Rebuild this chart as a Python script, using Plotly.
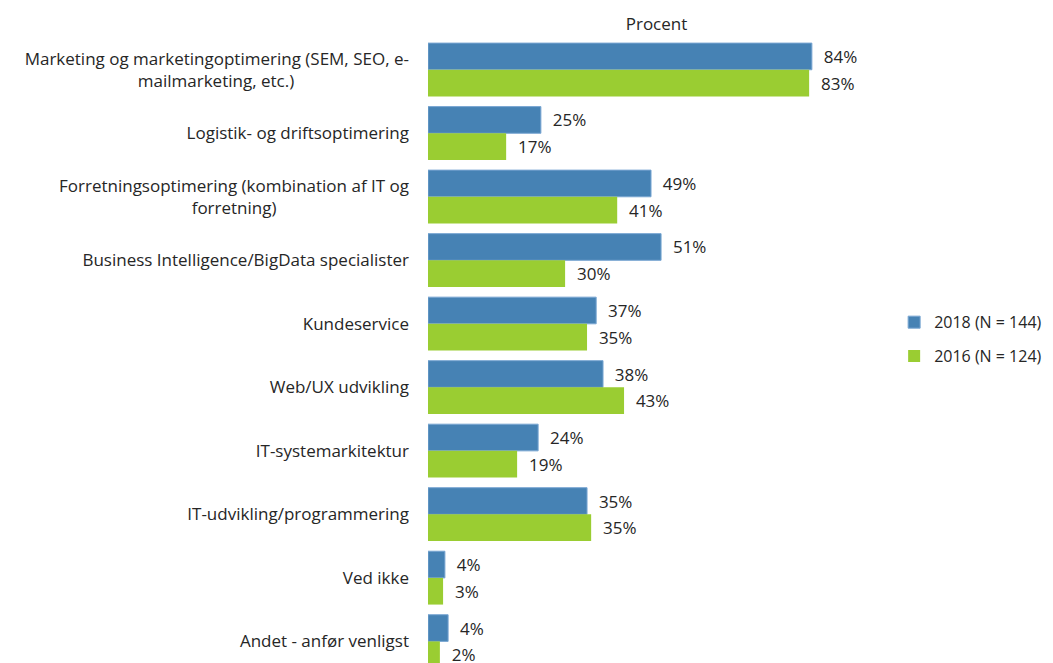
import plotly.graph_objects as go

NB = "\u00a0"
categories = [
    "Marketing og marketingoptimering (SEM, SEO, e-<br>mailmarketing, etc.)" + NB * 26,
    "Logistik- og driftsoptimering",
    "Forretningsoptimering (kombination af IT og<br>forretning)" + NB * 30,
    "Business Intelligence/BigData specialister",
    "Kundeservice",
    "Web/UX udvikling",
    "IT-systemarkitektur",
    "IT-udvikling/programmering",
    "Ved ikke",
    "Andet - anfør venligst",
]
values_2018 = [84.0, 24.7, 48.8, 51.0, 36.8, 38.3, 24.1, 34.8, 3.7, 4.4]
values_2016 = [83.4, 17.1, 41.4, 30.0, 34.8, 42.9, 19.5, 35.7, 3.3, 2.6]
labels_2018 = ["84%", "25%", "49%", "51%", "37%", "38%", "24%", "35%", "4%", "4%"]
labels_2016 = ["83%", "17%", "41%", "30%", "35%", "43%", "19%", "35%", "3%", "2%"]

FONT = "Open Sans"
TXT = "#262626"
FS = 17
pad = NB * 2

fig = go.Figure()
fig.add_trace(go.Bar(
    y=categories, x=values_2018, orientation="h", name="2018 (N = 144)",
    marker=dict(color="#4682B4", line=dict(color="#79A6D2", width=1)),
    text=[pad + t for t in labels_2018], textposition="outside",
    textfont=dict(family=FONT, size=FS, color=TXT), cliponaxis=False,
    legendgroup="a",
))
fig.add_trace(go.Bar(
    y=categories, x=values_2016, orientation="h", name="2016 (N = 124)",
    marker=dict(color="#9ACD32", line=dict(width=0)),
    text=[pad + t for t in labels_2016], textposition="outside",
    textfont=dict(family=FONT, size=FS, color=TXT), cliponaxis=False,
    legendgroup="b",
))

fig.update_layout(
    width=1053, height=663,
    margin=dict(l=428, r=168, t=38, b=0, autoexpand=False),
    paper_bgcolor="white", plot_bgcolor="white",
    font=dict(family=FONT, size=FS, color=TXT),
    barmode="group", bargap=0.16, bargroupgap=0,
    showlegend=True,
    legend=dict(x=1.02, xanchor="left", y=0.518, yanchor="middle",
                traceorder="grouped", tracegroupgap=10, itemwidth=30,
                font=dict(family=FONT, size=16, color=TXT)),
    xaxis=dict(range=[0, 100], side="top", showticklabels=False, showgrid=False,
               zeroline=False, showline=False, ticks="",
               title=dict(text="Procent", standoff=2, font=dict(family=FONT, size=FS, color=TXT))),
    yaxis=dict(range=[9.34, -0.5], showgrid=False, zeroline=False, showline=False,
               ticks="", ticklabelstandoff=18,
               tickfont=dict(family=FONT, size=FS, color=TXT)),
)

fig.write_html("out.html")
